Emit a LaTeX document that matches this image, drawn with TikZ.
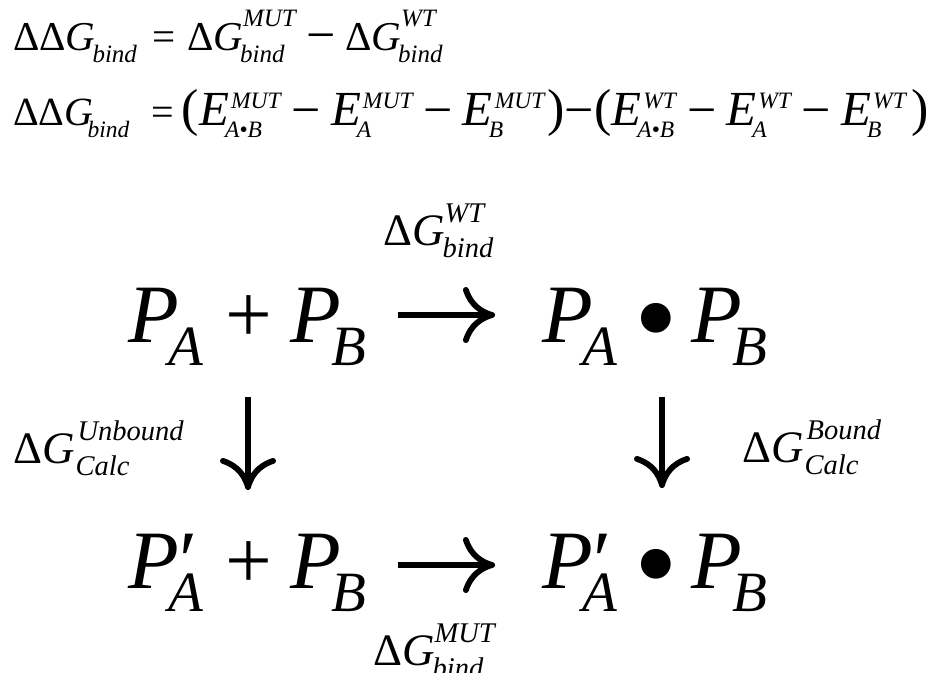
\documentclass[tikz,border=0pt]{standalone}
\usepackage{fontspec}
\setmainfont{Liberation Serif}
\usetikzlibrary{arrows.meta,calc}

% superscript / subscript pair, sub shifted left by \subk
\newcommand\SupSub[2]{{\fontsize{\scsz}{\scsz}\selectfont\itshape
  \setbox0=\hbox{\raise\supr\hbox{#1}}\setbox2=\hbox{\kern-\subk\lower\subl\hbox{#2}}%
  \ifdim\wd0>\wd2 \rlap{\box2}\box0 \else\rlap{\box0}\box2\fi}}
\newcommand\It[1]{\textit{#1}}
\newcommand\BE[1]{{\fontsize{49}{56}\selectfont#1}}
\newcommand\BP[1]{{\fontsize{52}{56}\selectfont#1}}
\newcommand\Mi{{\fontsize{52}{56}\selectfont\raisebox{-2pt}{−}}}
\newcommand\BigDot{\raisebox{-17pt}{\scalebox{1.5}{•}}}

\tikzset{
  eqline/.style={inner sep=0pt, anchor=base west,
    font=\fontsize{41}{48}\selectfont\def\scsz{25}\def\supr{24pt}\def\subl{12pt}\def\subk{3pt}},
  eqtwo/.style={inner sep=0pt, anchor=base west,
    font=\fontsize{40}{48}\selectfont\def\scsz{23.5}\def\supr{17pt}\def\subl{12pt}\def\subk{6pt}},
  lab/.style={inner sep=0pt, anchor=base west,
    font=\fontsize{45}{52}\selectfont\def\scsz{28.5}\def\supr{23pt}\def\subl{12pt}\def\subk{2pt}},
  big/.style={inner sep=0pt, anchor=base west,
    font=\fontsize{83}{90}\selectfont\def\scsz{57}\def\supr{30pt}\def\subl{23pt}\def\subk{10pt}},
  arr/.style={line width=5.8pt,
    -{Computer Modern Rightarrow[length=32pt,width=56pt,line width=5.8pt]}}
}

\begin{document}
\begin{tikzpicture}[x=1pt,y=-1pt]
\useasboundingbox (0,0) rectangle (937,672);

\node[eqline] (l1) at (13,50) {ΔΔ\It{G}\SupSub{}{bind}\hspace{16pt}=\hspace{11pt}Δ\It{G}\SupSub{MUT}{bind}\hspace{11pt}\Mi\hspace{9pt}Δ\It{G}\SupSub{WT}{bind}};

\node[eqtwo] (l2) at (13,125) {ΔΔ\It{G}\SupSub{}{bind}\hspace{22pt}=\hspace{8pt}\BP{(}\BE{\It{E}}\kern2pt\SupSub{MUT}{A•B}\hspace{11pt}\Mi\hspace{10pt}\BE{\It{E}}\kern2pt\SupSub{MUT}{A}\hspace{11pt}\Mi\hspace{10pt}\BE{\It{E}}\kern2pt\SupSub{MUT}{B}\hspace{3pt}\BP{)}\Mi\BP{(}\BE{\It{E}}\kern2pt\SupSub{WT}{A•B}\hspace{11pt}\Mi\hspace{10pt}\BE{\It{E}}\kern2pt\SupSub{WT}{A}\hspace{11pt}\Mi\hspace{10pt}\BE{\It{E}}\kern2pt\SupSub{WT}{B}\hspace{6pt}\BP{)}};

\node[big] (r1l) at (128,342) {\It{P}\SupSub{}{A}\hspace{22pt}+\hspace{18pt}\It{P}\SupSub{}{B}};
\node[big] (r1r) at (542,342) {\It{P}\SupSub{}{A}\hspace{17pt}\BigDot\hspace{13pt}\It{P}\SupSub{}{B}};
\node[big] (r2l) at (128,588) {\It{P}\rlap{\kern1pt′}\SupSub{}{A}\hspace{22pt}+\hspace{18pt}\It{P}\SupSub{}{B}};
\node[big] (r2r) at (542,588) {\It{P}\rlap{\kern1pt′}\SupSub{}{A}\hspace{17pt}\BigDot\hspace{13pt}\It{P}\SupSub{}{B}};

\node[lab] (wt)  at (383,245) {Δ\It{G}\SupSub{WT}{bind}};
\node[lab] (mut) at (373,665) {Δ\It{G}\SupSub{MUT}{bind}};
\node[lab] (ub)  at (13,463)  {Δ\It{G}\kern3pt\SupSub{Unbound}{Calc}};
\node[lab] (bd)  at (742,462) {Δ\It{G}\kern3pt\SupSub{Bound}{Calc}};

\draw[arr] ($(r1l.base east)+(32,-27)$) -- ($(r1r.base west)+(-47,-27)$);
\draw[arr] ($(r2l.base east)+(32,-23)$) -- ($(r2r.base west)+(-47,-23)$);
\draw[arr] ($(r1l.base west)+(120,55)$) -- ($(r2l.base west)+(120,-98)$);
\draw[arr] ($(r1r.base west)+(120,55)$) -- ($(r2r.base west)+(120,-100)$);
\end{tikzpicture}
\end{document}
